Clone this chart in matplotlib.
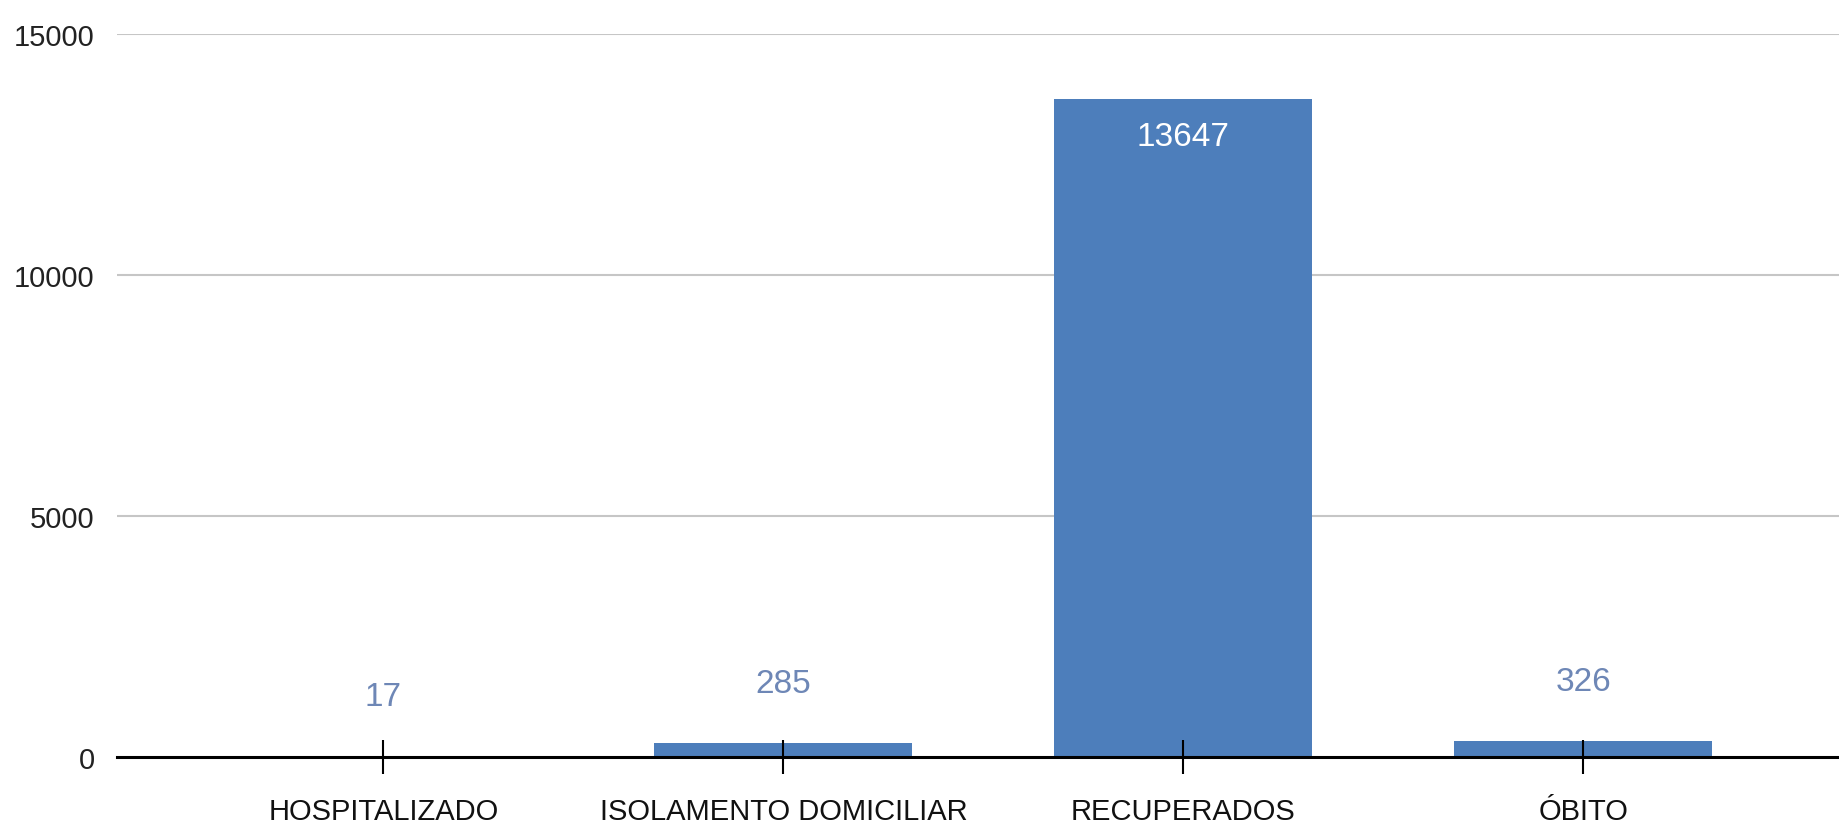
import matplotlib
matplotlib.use("Agg")
import matplotlib.pyplot as plt

categories = ["HOSPITALIZADO", "ISOLAMENTO DOMICILIAR", "RECUPERADOS", "ÓBITO"]
values = [17, 285, 13647, 326]
yticks = [0, 5000, 10000, 15000]

BAR = "#4D7EBB"
LABEL = "#6E87B6"
FONT = ["Liberation Sans", "DejaVu Sans"]

fig = plt.figure(figsize=(18.39, 8.28), dpi=100)
ax = fig.add_axes([0.0636, 0.0845, 0.9364, 0.8732])

x = list(range(len(categories)))
ax.bar(x, values, width=0.645, color=BAR, zorder=2)

ax.set_xlim(-0.666, 3.639)
ax.set_ylim(0, 15000)
ax.set_yticks(yticks)
ax.set_yticklabels([str(v) for v in yticks], fontsize=21, family=FONT, color="#222222")
ax.set_xticks(x)
ax.set_xticklabels(categories, fontsize=21, family=FONT, color="#111111")

for s in ["top", "right", "left"]:
    ax.spines[s].set_visible(False)
ax.spines["bottom"].set_linewidth(2.2)
ax.spines["bottom"].set_color("black")

# gridlines below bars, axis (ticks) above bars
for yt in yticks[1:]:
    ax.axhline(yt, color="#c6c6c6", linewidth=1.5, zorder=1)
ax.set_axisbelow(False)

ax.tick_params(axis="y", length=0, pad=16)
ax.tick_params(axis="x", direction="inout", length=24, width=1.5, color="black", pad=17)

ymax = 15000
for xi, v in zip(x, values):
    if v > 0.5 * ymax:
        ax.annotate(str(v), (xi, v), xytext=(0, -27), textcoords="offset points",
                    ha="center", va="center", fontsize=24, color="white",
                    family=FONT, zorder=6)
    else:
        ax.annotate(str(v), (xi, v), xytext=(0, 43), textcoords="offset points",
                    ha="center", va="center", fontsize=24, color=LABEL,
                    family=FONT, zorder=6)

fig.savefig("out.png", dpi=100, facecolor="white")
